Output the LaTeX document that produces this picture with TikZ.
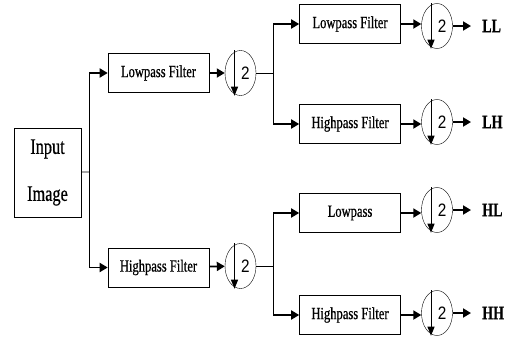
\documentclass[tikz,border=0pt]{standalone}
\usepackage{fontspec}
\setmainfont{Liberation Serif}[FakeStretch=0.74,FakeBold=0.6]
\newfontfamily\digitfont{Liberation Sans}[FakeStretch=0.85]
\usetikzlibrary{shapes.geometric,arrows.meta}

\begin{document}
\begin{tikzpicture}[
    x=1pt, y=-1pt,
    filter/.style={rectangle,draw,semithick,minimum width=101pt,minimum height=39pt,inner sep=0pt,font=\fontsize{17}{18}\selectfont},
    down/.style={ellipse,draw,thin,minimum width=31pt,minimum height=45pt,inner sep=0pt},
    two/.style={font=\digitfont\fontsize{18}{18}\selectfont,inner sep=0pt},
    band/.style={font=\bfseries\fontsize{19}{20}\selectfont,inner sep=0pt,anchor=west},
    conn/.style={line width=0.7pt},
    thk/.style={line width=1.8pt,-{Triangle[length=8pt,width=9pt]}},
    dwn/.style={line width=1pt,-{Triangle[length=9pt,width=7pt]}}
]
\useasboundingbox (0,0) rectangle (513,338);

% Eingang
\node[rectangle,draw,semithick,minimum width=67pt,minimum height=89pt,align=center,
      font=\fontsize{22}{47}\selectfont] (img) at (47.5,172.5) {Input\\Image};

% erste Stufe
\node[filter] (lp) at (158.5,73) {Lowpass Filter};
\node[filter] (hp) at (158.5,267.5) {Highpass Filter};
\node[down] (d1) at (240.5,73) {};
\node[down] (d2) at (240.5,266) {};

% zweite Stufe
\node[filter] (fll) at (350,24) {Lowpass Filter};
\node[filter] (flh) at (350,124) {Highpass Filter};
\node[filter] (fhl) at (350,213) {Lowpass};
\node[filter] (fhh) at (350,315) {Highpass Filter};
\node[down] (dll) at (437,26) {};
\node[down] (dlh) at (437,122) {};
\node[down] (dhl) at (437,210) {};
\node[down] (dhh) at (437,313) {};

% Ergebnisse
\node[band] (ll) at (482,26) {LL};
\node[band] (lh) at (482,122) {LH};
\node[band] (hl) at (482,210) {HL};
\node[band] (hh) at (482,313) {HH};

% Verzweigungen
\coordinate (b0) at (89,172);
\coordinate (b1) at (273,73);
\coordinate (b2) at (273,266);

% Ziffern und Pfeile in den Kreisen
\node[two] (t1) at ([xshift=5pt]d1.center) {2};
\node[two] (t2) at ([xshift=5pt]d2.center) {2};
\node[two] (tll) at ([xshift=5pt]dll.center) {2};
\node[two] (tlh) at ([xshift=5pt]dlh.center) {2};
\node[two] (thl) at ([xshift=5pt]dhl.center) {2};
\node[two] (thh) at ([xshift=5pt]dhh.center) {2};
\draw[dwn] ([xshift=-6pt]d1.north) -- ([xshift=-6pt]d1.south);
\draw[dwn] ([xshift=-6pt]d2.north) -- ([xshift=-6pt]d2.south);
\draw[dwn] ([xshift=-6pt]dll.north) -- ([xshift=-6pt]dll.south);
\draw[dwn] ([xshift=-6pt]dlh.north) -- ([xshift=-6pt]dlh.south);
\draw[dwn] ([xshift=-6pt]dhl.north) -- ([xshift=-6pt]dhl.south);
\draw[dwn] ([xshift=-6pt]dhh.north) -- ([xshift=-6pt]dhh.south);

% Linien
\draw[conn] (img) -- (b0);
\draw[conn] (b0|-lp) -- (b0|-hp);
\draw[conn] (d1) -- (b1);
\draw[conn] (b1|-fll) -- (b1|-flh);
\draw[conn] (d2) -- (b2);
\draw[conn] (b2|-fhl) -- (b2|-fhh);

% Pfeile
\draw[thk] (b0|-lp) -- (lp);
\draw[thk] (b0|-hp) -- (hp);
\draw[thk] (lp) -- (d1);
\draw[thk] (hp) -- (d2);
\draw[thk] (b1|-fll) -- (fll);
\draw[thk] (b1|-flh) -- (flh);
\draw[thk] (b2|-fhl) -- (fhl);
\draw[thk] (b2|-fhh) -- (fhh);
\draw[thk] (fll) -- (fll-|dll.west);
\draw[thk] (flh) -- (flh-|dlh.west);
\draw[thk] (fhl) -- (fhl-|dhl.west);
\draw[thk] (fhh) -- (fhh-|dhh.west);
\draw[thk] (dll) -- ([xshift=-11pt]ll.west);
\draw[thk] (dlh) -- ([xshift=-11pt]lh.west);
\draw[thk] (dhl) -- ([xshift=-11pt]hl.west);
\draw[thk] (dhh) -- ([xshift=-11pt]hh.west);

\end{tikzpicture}
\end{document}
